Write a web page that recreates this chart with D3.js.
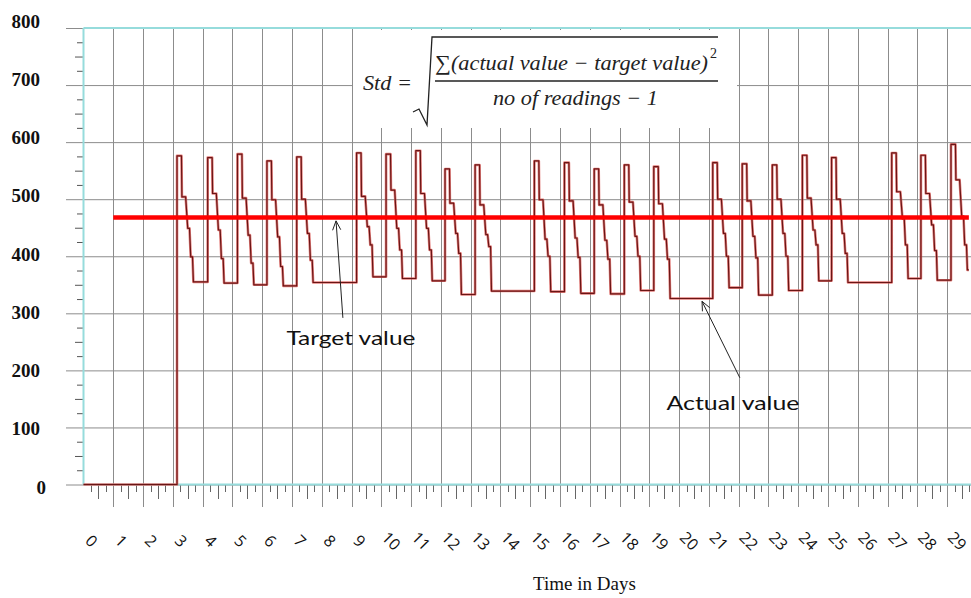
<!DOCTYPE html>
<html>
<head>
<meta charset="utf-8">
<script src="https://cdn.jsdelivr.net/npm/d3@7"></script>
<style>
  html, body { margin: 0; padding: 0; background: #fff; }
  svg { display: block; }
</style>
</head>
<body>
<svg id="chart" width="971" height="598"></svg>
<script>
// ---- data ----
const dayTicks = [0, 1, 2, 3, 4, 5, 6, 7, 8, 9, 10, 11, 12, 13, 14, 15, 16, 17, 18, 19, 20, 21, 22, 23, 24, 25, 26, 27, 28, 29];
const valueTicks = [0, 100, 200, 300, 400, 500, 600, 700, 800];

// one loading cycle per working day: time of the rise, then the levels it steps down through
const riseDay  = [3.14, 4.17, 5.17, 6.16, 7.16, 9.17, 10.16, 11.16, 12.14, 13.15, 15.14, 16.15, 17.15, 18.16, 19.15, 21.13, 22.12, 23.13, 24.14, 25.12, 27.14, 28.12, 29.13];
const peak     = [576, 573, 579, 567, 574, 581, 579, 585, 553, 560, 567, 564, 553, 560, 557, 564, 562, 560, 577, 573, 581, 577, 596];
const shoulder = [504, 510, 502, 499, 500, 505, 516, 510, 493, 490, 499, 497, 490, 495, 492, 500, 497, 500, 502, 500, 513, 510, 534];
const midStep  = [449, 446, 437, 434, 440, 452, 449, 449, 440, 438, 430, 432, 428, 435, 430, 440, 435, 440, 446, 440, 466, 455, 470];
const lowStep  = [399, 396, 388, 382, 393, 420, 411, 411, 405, 417, 400, 398, 395, 400, 395, 400, 397, 400, 420, 405, 420, 410, 420];
const base     = [355, 353, 350, 348, 354, 364, 361, 357, 333, 339, 338, 335, 334, 340, 326, 345, 332, 340, 357, 354, 361, 358, 376];
// time (days after the rise) at which each level starts / ends
const cycleTiming = [0, 0.15, 0.165, 0.29, 0.36, 0.42, 0.46, 0.52, 0.55];
const lastReadingDay = 29.73;

const targetValue = 468;
const targetSpan = [1, 29.73];

// ---- layout ----
const svg = d3.select("#chart");
const W = 971, H = 598;
const plot = { left: 83.5, top: 28, bottom: 484.5 };

const x = d3.scaleLinear().domain([0, 30]).range([plot.left, plot.left + 30 * 29.78]);
const y = d3.scaleLinear().domain([0, 800]).range([plot.bottom, plot.top]);
// tick labels sit on a slightly wider spacing than the grid
const yLabel = d3.scaleLinear().domain([0, 800]).range([487, 21]);

const gridColor = "#8c8c8c";
const axisCyan = "#96dcdc";

// horizontal grid lines (they double as the major y ticks)
svg.append("g").selectAll("line").data(valueTicks).join("line")
  .attr("x1", 66).attr("x2", W)
  .attr("y1", d => y(d) + 0.5).attr("y2", d => y(d) + 0.5)
  .attr("stroke", gridColor).attr("stroke-width", 1);

// minor y ticks every 25
const yMinor = [];
valueTicks.slice(0, -1).forEach(v => { yMinor.push(v + 25, v + 50, v + 75); });
svg.append("g").selectAll("line").data(yMinor).join("line")
  .attr("x1", d => (d % 50 === 0 ? 75 : 77)).attr("x2", plot.left)
  .attr("y1", d => y(d) + 0.5).attr("y2", d => y(d) + 0.5)
  .attr("stroke", "#555").attr("stroke-width", 1);

// vertical grid lines, continuing below the axis as major ticks
svg.append("g").selectAll("line").data(dayTicks.filter(d => d > 0)).join("line")
  .attr("x1", d => Math.round(x(d)) + 0.5).attr("x2", d => Math.round(x(d)) + 0.5)
  .attr("y1", plot.top).attr("y2", 507)
  .attr("stroke", gridColor).attr("stroke-width", 1);

// minor x ticks at quarter days
const xMinor = [];
dayTicks.forEach(d => { xMinor.push(d + 0.25, d + 0.5, d + 0.75); });
svg.append("g").selectAll("line").data(xMinor.filter(d => x(d) < W)).join("line")
  .attr("x1", d => Math.round(x(d)) + 0.5).attr("x2", d => Math.round(x(d)) + 0.5)
  .attr("y1", plot.bottom)
  .attr("y2", d => (Math.abs(d % 1 - 0.5) < 1e-6 ? 499 : 492))
  .attr("stroke", "#666").attr("stroke-width", 1);

// frame lines
svg.append("line").attr("x1", plot.left).attr("x2", W).attr("y1", y(800)).attr("y2", y(800))
  .attr("stroke", axisCyan).attr("stroke-width", 2);
svg.append("line").attr("x1", plot.left).attr("x2", W).attr("y1", y(0)).attr("y2", y(0))
  .attr("stroke", axisCyan).attr("stroke-width", 2);
svg.append("line").attr("x1", plot.left).attr("x2", plot.left).attr("y1", y(800)).attr("y2", y(0))
  .attr("stroke", axisCyan).attr("stroke-width", 2);

// y labels
svg.append("g").selectAll("text").data(valueTicks).join("text")
  .attr("x", d => (d === 0 ? 46 : 40))
  .attr("y", d => yLabel(d))
  .attr("dy", "0.35em")
  .attr("text-anchor", "end")
  .attr("font-family", "'Liberation Serif', 'Times New Roman', serif")
  .attr("font-weight", "bold")
  .attr("font-size", 19)
  .attr("fill", "#111")
  .text(d => d);

// x labels, rotated
svg.append("g").selectAll("text").data(dayTicks).join("text")
  .attr("transform", d => `translate(${x(d) + (String(d).length > 1 ? 10 : 8)},541) rotate(45)`)
  .attr("text-anchor", "middle")
  .attr("dy", "0.35em")
  .attr("font-family", "'Open Sans', sans-serif")
  .attr("font-size", 16)
  .attr("fill", "#111")
  .text(d => d);

svg.append("text")
  .attr("x", 584.5).attr("y", 590)
  .attr("text-anchor", "middle")
  .attr("font-family", "'Liberation Serif', 'Times New Roman', serif")
  .attr("font-size", 19)
  .attr("fill", "#111")
  .text("Time in Days");

// ---- actual value trace ----
const pts = [[0, 0]];
let prev = 0;
riseDay.forEach((r, i) => {
  const lv = [prev, peak[i], peak[i], shoulder[i], shoulder[i], midStep[i], midStep[i], lowStep[i], lowStep[i], base[i]];
  const tt = [0].concat(cycleTiming);
  lv.forEach((v, k) => pts.push([r + tt[k], v]));
  prev = base[i];
});
pts.push([lastReadingDay, prev]);

const line = d3.line().x(d => x(d[0])).y(d => y(d[1]));
svg.append("path").datum(pts).attr("d", line)
  .attr("fill", "none").attr("stroke", "#d9534f").attr("stroke-width", 2.6)
  .attr("stroke-linejoin", "round").attr("opacity", 0.75);
svg.append("path").datum(pts).attr("d", line)
  .attr("fill", "none").attr("stroke", "#6a1515").attr("stroke-width", 1.2)
  .attr("stroke-linejoin", "round");

// ---- target value ----
svg.append("line")
  .attr("x1", x(targetSpan[0])).attr("x2", x(targetSpan[1]))
  .attr("y1", y(targetValue)).attr("y2", y(targetValue))
  .attr("stroke", "#ff0000").attr("stroke-width", 4.5);

// ---- formula ----
svg.append("rect").attr("x", 353).attr("y", 30).attr("width", 384).attr("height", 98).attr("fill", "#fff");
const mathFont = "'Liberation Serif', 'DejaVu Serif', serif";
const fg = svg.append("g").attr("fill", "#222").attr("font-family", mathFont).attr("font-style", "italic");
fg.append("text").attr("x", 363).attr("y", 90).attr("font-size", 21)
  .attr("textLength", 49).attr("lengthAdjust", "spacingAndGlyphs").text("Std =");
fg.append("text").attr("x", 435).attr("y", 70).attr("font-size", 21)
  .attr("textLength", 273).attr("lengthAdjust", "spacingAndGlyphs").text("∑(actual value − target value)");
fg.append("text").attr("x", 710).attr("y", 58).attr("font-size", 14).attr("font-style", "normal").text("2");
fg.append("text").attr("x", 493).attr("y", 105).attr("font-size", 21)
  .attr("textLength", 165).attr("lengthAdjust", "spacingAndGlyphs").text("no of readings − 1");
svg.append("line").attr("x1", 435).attr("x2", 718).attr("y1", 81).attr("y2", 81)
  .attr("stroke", "#222").attr("stroke-width", 1.5);
svg.append("path").attr("d", "M413,112 L419,109 L427,125 L432,37 L718,37")
  .attr("fill", "none").attr("stroke", "#222").attr("stroke-width", 1.3);

// ---- callouts ----
const callouts = [
  { label: "Target value", tip: [8.48, 462], tail: [8.71, 292], text: [8.98, 257], width: 129 },
  { label: "Actual value", tip: [20.77, 321], tail: [22.04, 187], text: [21.81, 143], width: 133 }
];
callouts.forEach(c => {
  const tx = x(c.tip[0]), ty = y(c.tip[1]);
  const sx = x(c.tail[0]), sy = y(c.tail[1]);
  const ang = Math.atan2(sy - ty, sx - tx);
  const hl = 10, spread = 0.42;
  svg.append("line").attr("x1", sx).attr("y1", sy).attr("x2", tx).attr("y2", ty)
    .attr("stroke", "#222").attr("stroke-width", 1);
  svg.append("path")
    .attr("d", `M${tx + hl * Math.cos(ang - spread)},${ty + hl * Math.sin(ang - spread)} L${tx},${ty} L${tx + hl * Math.cos(ang + spread)},${ty + hl * Math.sin(ang + spread)}`)
    .attr("fill", "none").attr("stroke", "#222").attr("stroke-width", 1);
  svg.append("text")
    .attr("x", x(c.text[0])).attr("y", y(c.text[1]))
    .attr("dy", "0.35em")
    .attr("text-anchor", "middle")
    .attr("font-family", "Lato, 'Open Sans', sans-serif")
    .attr("font-size", 20)
    .attr("textLength", c.width).attr("lengthAdjust", "spacingAndGlyphs")
    .attr("fill", "#111")
    .text(c.label);
});
</script>
</body>
</html>
